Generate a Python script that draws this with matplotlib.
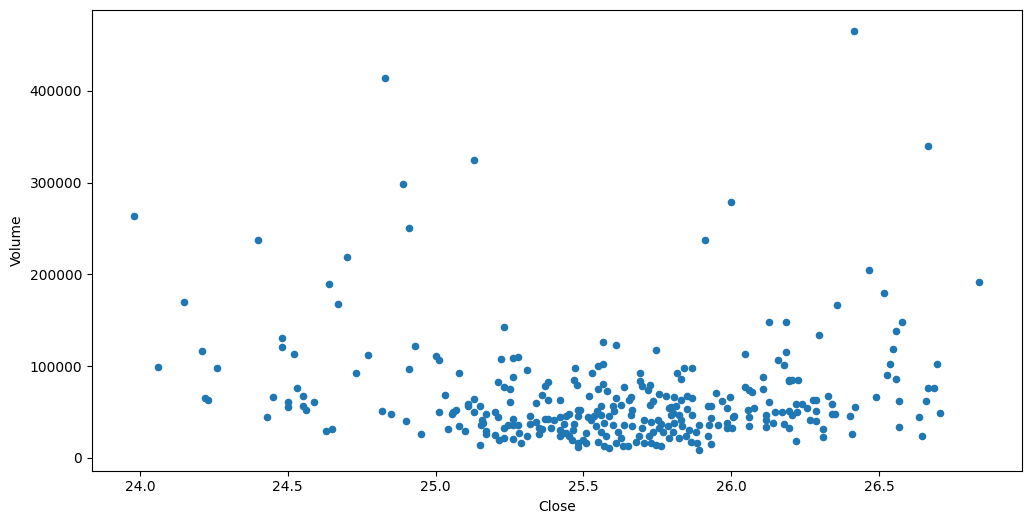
import matplotlib
matplotlib.use("Agg")
import matplotlib.pyplot as plt
import pandas as pd

close = [
    23.981, 24.062, 24.150, 24.210, 24.261, 24.219, 24.231, 24.400, 24.430, 24.450,
    24.481, 24.481, 24.501, 24.501, 24.521, 24.531, 24.552, 24.552, 24.562, 24.589,
    24.628, 24.650, 24.639, 24.670, 24.700, 24.731, 24.771, 24.819, 24.829, 24.849,
    24.890, 24.900, 24.910, 24.910, 24.930, 24.950, 25.001, 25.011, 25.011, 25.031,
    25.042, 25.056, 25.060, 25.070, 25.129, 25.910, 25.998, 26.417, 26.666, 26.466,
    26.518, 26.839,
    # right cluster
    26.579, 26.558, 26.547, 26.538, 26.697, 26.528, 26.558, 26.666, 26.687, 26.569,
    26.658, 26.707, 26.636, 26.569, 26.646, 26.490,
    # 26.0 - 26.45
    26.359, 26.129, 26.187, 26.297, 26.047, 26.187, 26.160, 26.180, 26.108, 26.196,
    26.207, 26.227, 26.196, 26.047, 26.061, 26.070, 26.108, 26.129, 26.218, 26.239,
    26.258, 26.277, 26.288, 26.329, 26.340, 26.056, 26.078, 26.059, 26.149, 26.171,
    26.196, 26.224, 26.288, 26.117, 26.117, 26.140, 26.119, 26.180, 26.196, 26.207,
    26.268, 26.288, 26.309, 26.309, 26.218, 26.340, 26.351, 26.401, 26.419, 26.410,
    26.059,
    # 25.52 - 26.01
    25.568, 25.609, 25.747, 25.568, 25.548, 25.529, 25.690, 25.818, 25.839, 25.869,
    25.829, 25.690, 25.700, 25.727, 25.720, 25.568, 25.579, 25.548, 25.639, 25.756,
    25.778, 25.808, 25.829, 25.849, 25.869, 25.610, 25.660, 25.653, 25.629, 25.734,
    25.727, 25.950, 25.968, 25.997, 25.987, 26.006, 25.920, 25.933, 25.558, 25.599,
    25.604, 25.666, 25.662, 25.795, 25.815, 25.851, 25.802, 25.824, 25.547, 25.537,
    25.559, 25.526, 25.543, 25.588, 25.571, 25.599, 25.559, 25.576, 25.548, 25.571,
    25.588, 25.610, 25.633, 25.650, 25.627, 25.616, 25.638, 25.666, 25.700, 25.706,
    25.728, 25.751, 25.762, 25.734, 25.756, 25.785, 25.807, 25.796, 25.790, 25.830,
    25.835, 25.858, 25.880, 25.847, 25.863, 25.886, 25.892, 25.920, 25.931, 25.925,
    25.931, 25.954, 25.892, 25.869, 25.768, 25.790, 25.762, 25.824, 25.723, 25.689,
    25.678, 25.706, 25.728, 25.745, 25.802, 25.987, 26.004, 25.987, 26.010,
    # 25.07 - 25.52
    25.231, 25.220, 25.261, 25.280, 25.309, 25.079, 25.262, 25.210, 25.231, 25.252,
    25.380, 25.370, 25.471, 25.469, 25.477, 25.519, 25.129, 25.110, 25.110, 25.150,
    25.130, 25.252, 25.339, 25.360, 25.379, 25.422, 25.201, 25.211, 25.171, 25.157,
    25.154, 25.162, 25.080, 25.100, 25.172, 25.172, 25.150, 25.200, 25.214, 25.232,
    25.231, 25.245, 25.262, 25.280, 25.261, 25.261, 25.288, 25.281, 25.309, 25.319,
    25.319, 25.339, 25.350, 25.350, 25.360, 25.371, 25.380, 25.401, 25.390, 25.422,
    25.442, 25.450, 25.433, 25.422, 25.422, 25.431, 25.442, 25.450, 25.464, 25.470,
    25.481, 25.487, 25.481, 25.461, 25.481, 25.481, 25.498, 25.509, 25.509, 25.515,
]

volume = [
    264000, 99000, 170100, 116400, 97900, 65100, 62900, 237800, 44400, 66200,
    130600, 120800, 60800, 55300, 113100, 76000, 67300, 56700, 52000, 60800,
    29100, 31300, 189500, 167700, 218500, 92100, 111800, 51000, 413500, 47700,
    298900, 40100, 96700, 250900, 121800, 25900, 111300, 106600, 49900, 68400,
    31300, 47300, 49900, 52100, 324800, 237500, 279000, 465000, 340100, 204800,
    179700, 191700,
    148000, 138200, 118600, 102200, 102200, 90200, 85900, 76400, 76400, 61900,
    61900, 48800, 44400, 33500, 23700, 66500,
    166600, 148000, 148000, 134200, 113500, 115300, 106600, 101100, 88000, 85100,
    85100, 85100, 83300, 77100, 73500, 71700, 74900, 61100, 58600, 58600,
    54200, 63300, 63300, 67700, 58600, 52400, 54200, 44400, 50200, 50200,
    51300, 50200, 51300, 46900, 41500, 37800, 33500, 37100, 32400, 46900,
    41500, 40400, 31300, 22600, 18200, 47600, 47600, 45500, 55300, 25800,
    34900,
    126200, 122900, 117500, 102600, 100400, 92400, 92800, 92800, 98200, 98200,
    85500, 84000, 78600, 79700, 74200, 80800, 73100, 75300, 77500, 69500,
    67700, 66200, 63300, 66900, 65100, 65100, 65800, 62600, 57500, 61800,
    57500, 70600, 61500, 66200, 53800, 44400, 56700, 56700, 56700, 56700,
    50600, 52400, 46900, 55300, 56000, 53100, 48700, 46900, 50600, 45100,
    46900, 40700, 34200, 45100, 37800, 36000, 28700, 23300, 17800, 12400,
    10600, 16000, 12400, 12400, 21500, 28700, 36000, 34900, 32400, 41500,
    39600, 41500, 37100, 28700, 32400, 34200, 37800, 46900, 54200, 41500,
    34200, 30600, 28700, 23300, 17800, 16000, 9000, 23300, 15300, 36000,
    43300, 36000, 36000, 46900, 28700, 21500, 13100, 21500, 24000, 23300,
    17800, 16000, 16000, 14200, 28700, 37800, 32400, 32400, 45100,
    142600, 107700, 108800, 109800, 95700, 92400, 88000, 82900, 77100, 74900,
    82200, 78200, 97800, 85100, 79300, 67300, 64000, 58600, 56000, 56400,
    49800, 61100, 59700, 68000, 62600, 63300, 49800, 44400, 47600, 41500,
    36000, 38200, 34900, 29500, 29500, 26200, 14200, 24400, 19600, 21800,
    32700, 36000, 42200, 35600, 36000, 20700, 16400, 26900, 23600, 45800,
    37100, 39600, 32000, 25500, 30900, 42200, 42200, 41500, 32400, 44400,
    45100, 47600, 37100, 29800, 24000, 27600, 26900, 23300, 30600, 36400,
    52400, 52400, 45100, 19600, 16000, 11300, 19600, 16700, 26900, 44400,
]

df = pd.DataFrame({"Close": close, "Volume": volume})

fig = plt.figure(figsize=(10.31, 5.25), dpi=100)
ax = fig.add_axes([92 / 1031, (525 - 470.5) / 525, 929.5 / 1031, 460.2 / 525])
df.plot.scatter(x="Close", y="Volume", ax=ax)
fig.savefig("out.png", dpi=100)
